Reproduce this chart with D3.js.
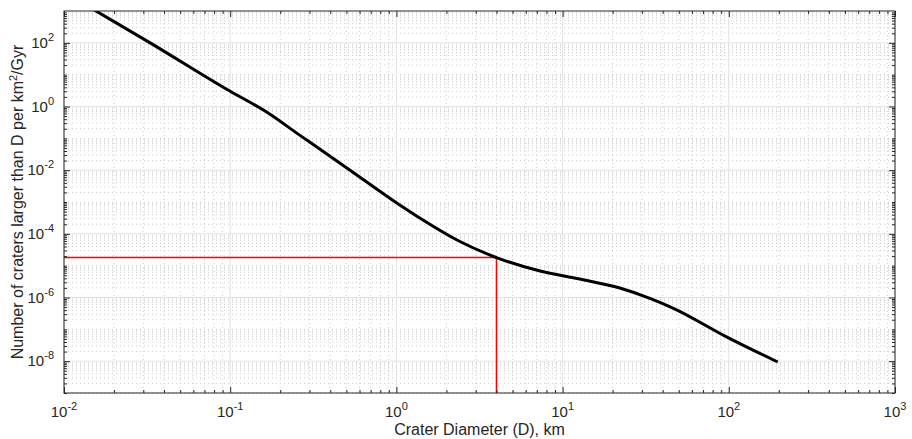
<!DOCTYPE html>
<html><head><meta charset="utf-8">
<script src="https://cdn.jsdelivr.net/npm/d3@7"></script>
<style>
body{margin:0;background:#fff;}
text{font-family:"Liberation Sans",Arial,Helvetica,sans-serif;fill:#262626;}
</style>
</head><body>
<svg id="chart" width="912" height="439"></svg>
<script>
// Crater size-frequency curve
const diameters   = [0.01, 0.033, 0.1, 0.162, 0.263, 0.526, 1.0, 1.445, 2.315, 4.0, 7.31, 12.7, 22.1, 33.5, 46.1, 97.5, 197];
const craterCounts = [3900, 100, 3.0, 0.72, 0.124, 0.01, 9.5e-4, 2.72e-4, 6.4e-5, 1.8e-5, 6.8e-6, 3.8e-6, 1.98e-6, 9.4e-7, 4.67e-7, 5.7e-8, 9.4e-9];
// red marker lines
const markerD = 4;
const markerN = 1.8e-5;
// axes
const xDomain = [1e-2, 1e3];
const yDomain = [1e-9, 1e3];
const xTickExponents = [-2, -1, 0, 1, 2, 3];
const yTickExponents = [-8, -6, -4, -2, 0, 2];
const xLabel = "Crater Diameter (D), km";
const yLabelMain = "Number of craters larger than D per km";
const yLabelSup = "2";
const yLabelTail = "/Gyr";

const W = 912, H = 439;
const L = 64, R = 895, T = 11, B = 393;
const svg = d3.select("#chart");

const x = d3.scaleLog().domain(xDomain).range([L, R]);
const y = d3.scaleLog().domain(yDomain).range([B, T]);

const xMajor = xTickExponents.map(e => Math.pow(10, e));
const xMinor = [];
for (let e = -2; e < 3; e++) for (let k = 2; k <= 9; k++) xMinor.push(k * Math.pow(10, e));
const yMajor = yTickExponents.map(e => Math.pow(10, e));
const yMinor = [];
for (let e = -9; e < 3; e++) for (let k = 1; k <= 9; k++) {
  if (k === 1 && yTickExponents.includes(e)) continue;
  yMinor.push(k * Math.pow(10, e));
}

// background
svg.append("rect").attr("x", L).attr("y", T).attr("width", R - L).attr("height", B - T).attr("fill", "#fff");

// grids
const grid = svg.append("g");
grid.selectAll(".xmin").data(xMinor).join("line")
  .attr("x1", d => x(d)).attr("x2", d => x(d)).attr("y1", T).attr("y2", B)
  .attr("stroke", "#cdcdcd").attr("stroke-width", 1).attr("stroke-dasharray", "1,3");
grid.selectAll(".ymin").data(yMinor).join("line")
  .attr("x1", L).attr("x2", R).attr("y1", d => y(d)).attr("y2", d => y(d))
  .attr("stroke", "#cdcdcd").attr("stroke-width", 1).attr("stroke-dasharray", "1,3");
grid.selectAll(".xmaj").data(xMajor).join("line")
  .attr("x1", d => x(d)).attr("x2", d => x(d)).attr("y1", T).attr("y2", B)
  .attr("stroke", "#e3e3e3").attr("stroke-width", 1);
grid.selectAll(".ymaj").data(yMajor).join("line")
  .attr("x1", L).attr("x2", R).attr("y1", d => y(d)).attr("y2", d => y(d))
  .attr("stroke", "#e3e3e3").attr("stroke-width", 1);

// clip
svg.append("clipPath").attr("id", "clip").append("rect")
  .attr("x", L).attr("y", T).attr("width", R - L).attr("height", B - T);

// red marker
const red = svg.append("g").attr("clip-path", "url(#clip)");
red.append("line").attr("x1", x(xDomain[0])).attr("x2", x(markerD)).attr("y1", y(markerN)).attr("y2", y(markerN))
  .attr("stroke", "#ff0000").attr("stroke-width", 1.5);
red.append("line").attr("x1", x(markerD)).attr("x2", x(markerD)).attr("y1", y(markerN)).attr("y2", y(yDomain[0]))
  .attr("stroke", "#ff0000").attr("stroke-width", 1.5);

// curve
const data = diameters.map((d, i) => [d, craterCounts[i]]);
const line = d3.line().x(d => x(d[0])).y(d => y(d[1])).curve(d3.curveMonotoneX);
svg.append("g").attr("clip-path", "url(#clip)").append("path").datum(data)
  .attr("d", line).attr("fill", "none").attr("stroke", "#000").attr("stroke-width", 3)
  .attr("stroke-linejoin", "round");

// axes (ticks inward)
function styleAxis(g) {
  g.select(".domain").remove();
  g.selectAll(".tick line").attr("stroke", "#262626");
  g.selectAll(".tick text").remove();
}
const axColor = "#262626";
svg.append("g").attr("transform", `translate(0,${B})`).call(d3.axisBottom(x).tickValues(xMajor).tickSize(-6).tickFormat("")).call(styleAxis);
svg.append("g").attr("transform", `translate(0,${B})`).call(d3.axisBottom(x).tickValues(xMinor).tickSize(-3).tickFormat("")).call(styleAxis);
svg.append("g").attr("transform", `translate(0,${T})`).call(d3.axisTop(x).tickValues(xMajor).tickSize(-6).tickFormat("")).call(styleAxis);
svg.append("g").attr("transform", `translate(0,${T})`).call(d3.axisTop(x).tickValues(xMinor).tickSize(-3).tickFormat("")).call(styleAxis);
svg.append("g").attr("transform", `translate(${L},0)`).call(d3.axisLeft(y).tickValues(yMajor).tickSize(-6).tickFormat("")).call(styleAxis);
svg.append("g").attr("transform", `translate(${L},0)`).call(d3.axisLeft(y).tickValues(yMinor).tickSize(-3).tickFormat("")).call(styleAxis);
svg.append("g").attr("transform", `translate(${R},0)`).call(d3.axisRight(y).tickValues(yMajor).tickSize(-6).tickFormat("")).call(styleAxis);
svg.append("g").attr("transform", `translate(${R},0)`).call(d3.axisRight(y).tickValues(yMinor).tickSize(-3).tickFormat("")).call(styleAxis);

// frame
svg.append("rect").attr("x", L).attr("y", T).attr("width", R - L).attr("height", B - T)
  .attr("fill", "none").attr("stroke", axColor).attr("stroke-width", 1);

// tick labels
const xl = svg.append("g").selectAll("text").data(xTickExponents).join("text")
  .attr("x", d => x(Math.pow(10, d))).attr("y", 417).attr("text-anchor", "middle").attr("font-size", 15);
xl.append("tspan").text("10");
xl.append("tspan").attr("dy", -7).attr("font-size", 11).text(d => d);

const yl = svg.append("g").selectAll("text").data(yTickExponents).join("text")
  .attr("x", 54).attr("y", d => y(Math.pow(10, d)) + 5).attr("text-anchor", "end").attr("font-size", 15);
yl.append("tspan").text("10");
yl.append("tspan").attr("dy", -7).attr("font-size", 11).text(d => d);

// axis titles
svg.append("text").attr("x", (L + R) / 2).attr("y", 435).attr("text-anchor", "middle")
  .attr("font-size", 16).text(xLabel);
const yt = svg.append("text").attr("transform", `translate(23,${(T + B) / 2}) rotate(-90)`)
  .attr("text-anchor", "middle").attr("font-size", 16);
yt.append("tspan").text(yLabelMain);
yt.append("tspan").attr("dy", -6).attr("font-size", 11).text(yLabelSup);
yt.append("tspan").attr("dy", 6).text(yLabelTail);
</script>
</body></html>
